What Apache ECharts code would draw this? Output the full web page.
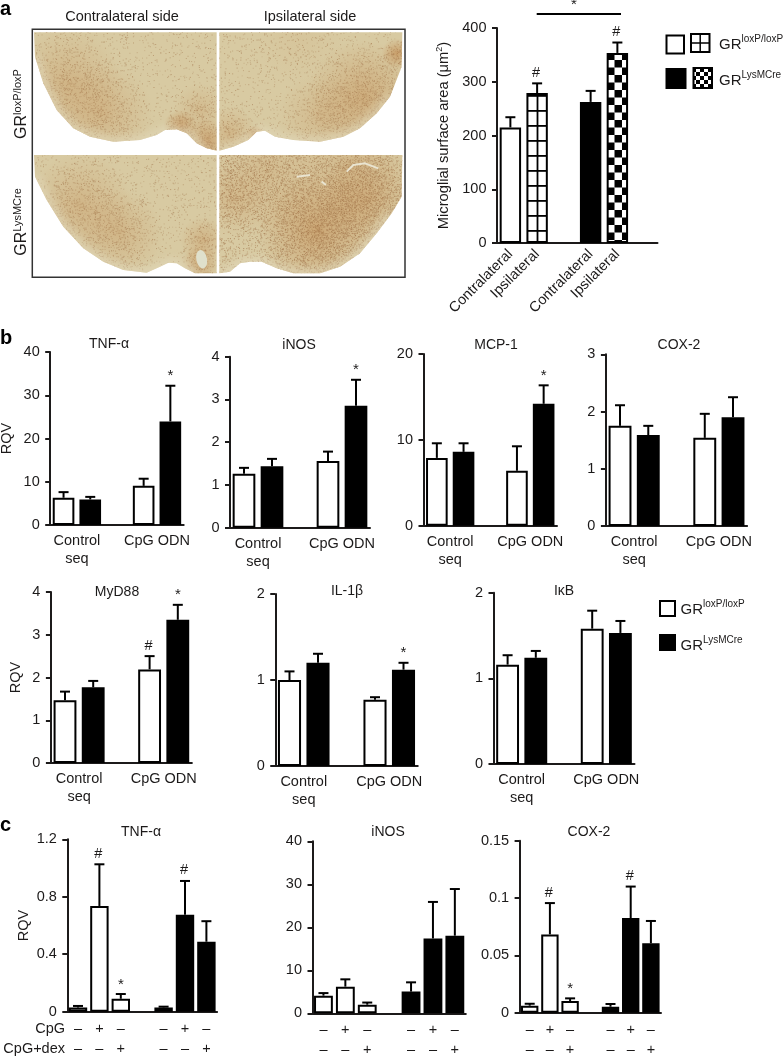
<!DOCTYPE html>
<html><head><meta charset="utf-8">
<script src="https://cdn.jsdelivr.net/npm/echarts@6/dist/echarts.min.js"></script>
<style>html,body{margin:0;padding:0;background:#fff}#c{width:784px;height:1057px}</style>
</head><body><div id="c"></div>
<script>
// ---------- values ----------
const sideLabels = ['Contralateral', 'Ipsilateral', 'Contralateral', 'Ipsilateral'];
const groupLabels = ['Control\nseq', 'CpG ODN'];
const cpgRow = ['–', '+', '–', '–', '+', '–'];
const dexRow = ['–', '–', '+', '–', '–', '+'];

const areaMeans = [215, 279, 262.5, 353.6];
const areaTops  = [234, 297, 283, 373];
const areaMarks = ['', '#', '', '#'];

const tnfMeans = [6.3, 5.9, 9.05, 23.95];
const tnfTops  = [7.6, 6.5, 10.7, 32.2];
const inosMeans = [1.26, 1.44, 1.56, 2.85];
const inosTops  = [1.40, 1.61, 1.78, 3.46];
const mcpMeans = [7.9, 8.6, 6.4, 14.2];
const mcpTops  = [9.6, 9.6, 9.25, 16.35];
const coxMeans = [1.75, 1.59, 1.54, 1.90];
const coxTops  = [2.11, 1.75, 1.96, 2.25];
const myd88Means = [1.47, 1.77, 2.19, 3.35];
const myd88Tops  = [1.67, 1.92, 2.50, 3.70];
const il1Means = [1.0, 1.2, 0.77, 1.12];
const il1Tops  = [1.1, 1.305, 0.8, 1.2];
const ikbMeans = [1.16, 1.24, 1.58, 1.53];
const ikbTops  = [1.27, 1.32, 1.79, 1.67];

const cTnfMeans = [0.03, 0.736, 0.09, 0.03, 0.675, 0.487];
const cTnfTops  = [0.04, 1.026, 0.123, 0.035, 0.91, 0.63];
const cInosMeans = [4.1, 6.2, 2.0, 5.05, 17.4, 18.05];
const cInosTops  = [4.7, 7.9, 2.5, 7.2, 25.9, 28.9];
const cCoxMeans = [0.0061, 0.0683, 0.0102, 0.0052, 0.0826, 0.0605];
const cCoxTops  = [0.0078, 0.0956, 0.0125, 0.0076, 0.11, 0.08];

// ---------- patterns ----------
const INK = '#1c1a1a';
function tile(w, h, draw) {
  const t = document.createElement('canvas'); t.width = w; t.height = h;
  const x = t.getContext('2d'); x.fillStyle = '#fff'; x.fillRect(0, 0, w, h); x.fillStyle = '#000'; draw(x);
  return t;
}
const gridTile = tile(21, 15, x => { x.fillRect(11.6, 0, 1.8, 15); x.fillRect(0, 5, 21, 1.8); });
const checkTile = tile(15, 15, x => {
  [-15, 0, 15].forEach(d => { x.fillRect(7 + d, 7.5, 7.5, 7.5); x.fillRect(14.5 + d, 0, 7.5, 7.5); });
});
const smallCheck = tile(8, 8, x => { x.fillRect(0, 0, 4, 4); x.fillRect(4, 4, 4, 4); });
const gridFill = { image: gridTile, repeat: 'repeat' };
const checkFill = { image: checkTile, repeat: 'repeat' };

// ---------- micrograph (a photograph in the source; painted as a background texture) ----------
function micrograph() {
  const cv = document.createElement('canvas'); cv.width = 420; cv.height = 290;
  const g = cv.getContext('2d'); g.scale(1 / 3, 1 / 3);
  let s = 12345; const rnd = () => (s = (s * 1103515245 + 12345) & 0x7fffffff) / 0x7fffffff;
  const tissue = [
    { poly: [[102,97],[650,97],[650,452],[620,445],[590,430],[560,400],[530,388],[495,390],[470,405],[420,420],[340,425],[270,410],[220,385],[170,330],[130,250],[105,170]],
      blobs: [[200,250,170,.30],[310,340,150,.28],[540,380,50,.7],[620,425,70,.55],[600,330,80,.22]], base: .10, dot: .18 },
    { poly: [[658,97],[1207,97],[1205,200],[1170,290],[1130,340],[1080,385],[1030,410],[960,425],[880,420],[825,410],[795,392],[770,395],[745,420],[700,440],[658,452]],
      blobs: [[1090,290,170,.42],[960,350,130,.22],[1190,160,45,.6],[765,405,30,.8],[690,400,80,.28],[900,120,130,.08]], base: .11, dot: .18 },
    { poly: [[102,465],[650,465],[650,820],[585,820],[555,805],[530,790],[505,788],[480,800],[440,818],[370,810],[310,785],[250,745],[190,680],[140,600],[105,530]],
      blobs: [[240,620,160,.30],[360,700,130,.28],[610,720,70,.32],[600,790,55,.45]], base: .11, dot: .18 },
    { poly: [[658,465],[1207,465],[1205,590],[1175,640],[1130,700],[1080,760],[1020,800],[960,820],[880,820],[830,805],[785,785],[750,785],[720,790],[690,815],[658,820]],
      blobs: [[950,690,180,.5],[1100,600,150,.35],[800,520,190,.22],[1050,500,190,.25],[700,600,110,.2]], base: .24, dot: .32 }
  ];
  tissue.forEach(t => {
    g.save(); g.beginPath();
    t.poly.forEach((p, i) => i ? g.lineTo(p[0], p[1]) : g.moveTo(p[0], p[1]));
    g.closePath(); g.clip();
    g.fillStyle = '#d8caa2'; g.fillRect(0, 0, 1260, 870);
    t.blobs.forEach(b => {
      const r = g.createRadialGradient(b[0], b[1], 0, b[0], b[1], b[2]);
      r.addColorStop(0, 'rgba(194,140,82,' + Math.min(.7, b[3] * 1.15) + ')');
      r.addColorStop(1, 'rgba(194,140,82,0)');
      g.fillStyle = r; g.fillRect(b[0] - b[2], b[1] - b[2], b[2] * 2, b[2] * 2);
    });
    g.filter = 'blur(0.5px)';
    for (let y = 90; y < 830; y += 4) for (let x = 100; x < 1210; x += 4) {
      let p = t.base;
      t.blobs.forEach(b => { const d = Math.hypot(x - b[0], y - b[1]) / b[2]; if (d < 1) p += b[3] * (1 - d); });
      if (rnd() < p) {
        g.fillStyle = 'rgba(150,100,58,' + (t.dot + rnd() * .32).toFixed(2) + ')';
        g.fillRect(x + rnd() * 3, y + rnd() * 3, 3, 3);
      }
    }
    g.filter = 'blur(4px)';
    g.strokeStyle = 'rgba(226,218,188,.8)'; g.lineWidth = 22;
    g.beginPath();
    t.poly.slice(3).forEach((p, i) => i ? g.lineTo(p[0], p[1]) : g.moveTo(p[0], p[1]));
    g.stroke();
    g.filter = 'none';
    g.restore();
  });
  // pale vessels and ventricle openings
  g.strokeStyle = '#e9e4d0'; g.lineWidth = 6; g.lineJoin = 'round';
  [[[1040,515],[1060,495],[1095,490],[1135,505]], [[890,530],[930,525]], [[965,545],[978,555]]].forEach(l => {
    g.beginPath(); l.forEach((p, i) => i ? g.lineTo(p[0], p[1]) : g.moveTo(p[0], p[1])); g.stroke();
  });
  g.fillStyle = '#dfe0cc'; g.beginPath(); g.ellipse(605, 778, 16, 28, -.2, 0, 7); g.fill();
  return cv;
}

// ---------- chart ----------
const grids = [], xAxes = [], yAxes = [], series = [], titles = [];
const FONT = '"Liberation Sans", Arial, sans-serif';

function addPanel(c) {
  const i = grids.length;
  grids.push({ left: c.left, top: c.top, width: c.slot * c.slots, height: c.height, outerBoundsMode: 'none' });
  xAxes.push({
    gridIndex: i, type: 'value', min: 0, max: c.slots, splitLine: { show: false },
    axisLine: { lineStyle: { color: INK, width: 2 } }, axisTick: { show: false },
    axisLabel: Object.assign({
      customValues: c.labelAt, color: INK, fontFamily: FONT, fontSize: 14.5, lineHeight: c.lineHeight || 18,
      margin: c.margin === undefined ? 7 : c.margin, formatter: v => c.labels[c.labelAt.indexOf(v)], hideOverlap: false
    }, c.labelExtra || {})
  });
  yAxes.push({
    gridIndex: i, type: 'value', min: 0, max: c.max, interval: c.interval, splitLine: { show: false },
    axisLine: { show: true, lineStyle: { color: INK, width: 2 } },
    axisTick: { show: true, length: 5, lineStyle: { color: INK, width: 2 } },
    axisLabel: { color: INK, fontFamily: FONT, fontSize: 14.5, margin: 10.5 },
    name: c.yName || '', nameLocation: 'middle', nameGap: c.yGap || 30, nameRotate: 90,
    nameTextStyle: { color: INK, fontFamily: FONT, fontSize: c.yNameSize || 14.5, rich: { s: { fontSize: 9, verticalAlign: 'top', lineHeight: 18, fontFamily: FONT, color: INK } } }
  });
  const xs = c.xs;
  series.push({
    type: 'bar', xAxisIndex: i, yAxisIndex: i, barWidth: c.slot * c.ratio, animation: false, silent: true, clip: false,
    data: c.means.map((m, k) => ({
      value: [xs[k], m],
      itemStyle: { color: c.fills[k], borderColor: '#000', borderWidth: 2 }
    }))
  });
  series.push({
    type: 'custom', xAxisIndex: i, yAxisIndex: i, animation: false, silent: true, clip: false, z: 1,
    encode: { x: 0, y: [1, 2] },
    data: c.means.map((m, k) => [xs[k], m, c.tops[k]]),
    renderItem(p, api) {
      const a = api.coord([api.value(0), api.value(1)]), b = api.coord([api.value(0), api.value(2)]);
      const st = { stroke: '#000', lineWidth: 2 };
      const kids = [
        { type: 'line', shape: { x1: a[0], y1: a[1], x2: b[0], y2: b[1] }, style: st },
        { type: 'line', shape: { x1: b[0] - 5, y1: b[1], x2: b[0] + 5, y2: b[1] }, style: st }
      ];
      const mark = c.marks && c.marks[p.dataIndex];
      if (mark) kids.push({
        type: 'text', style: {
          text: mark, x: b[0] - (mark === '#' ? 1 : 0), y: b[1] - (mark === '*' ? 2 : 3), textAlign: 'center',
          textVerticalAlign: 'bottom', fontSize: mark === '*' ? 15 : 14.5, fontFamily: FONT, fill: INK
        }
      });
      return { type: 'group', children: kids };
    }
  });
  if (c.title) titles.push({
    text: c.title, left: c.titleX, top: c.titleY, padding: 0, textAlign: 'center', textVerticalAlign: 'middle',
    textStyle: { color: INK, fontFamily: FONT, fontSize: 14, fontWeight: 'normal' }
  });
}

const W = '#ffffff', K = '#000000';
const fourX = [0.5, 1.5, 3.5, 4.5];
const sixX = [0.5, 1.5, 2.5, 4.5, 5.5, 6.5];

addPanel({ left: 497, top: 28, slot: 26.75, slots: 6, height: 215, ratio: .8, max: 400, interval: 100,
  means: areaMeans, tops: areaTops, marks: areaMarks, xs: fourX, fills: [W, gridFill, K, checkFill],
  labelAt: fourX, labels: sideLabels, labelExtra: { rotate: 45, margin: 9 },
  yName: 'Microglial surface area (μm{s|2})', yGap: 44, yNameSize: 14.7 });

function bPanel(o) {
  addPanel(Object.assign({ slots: 5, ratio: .81, xs: fourX, fills: [W, K, W, K], labelAt: [1, 4], labels: groupLabels, margin: 7 }, o));
}
bPanel({ left: 50.2, top: 352, slot: 26.7, height: 173, max: 40, interval: 10, means: tnfMeans, tops: tnfTops, marks: ['', '', '', '*'],
  title: 'TNF-α', titleX: 109, titleY: 344, yName: 'RQV', yGap: 36 });
bPanel({ left: 230, top: 356.7, slot: 28, height: 171, max: 4, interval: 1, means: inosMeans, tops: inosTops, marks: ['', '', '', '*'],
  title: 'iNOS', titleX: 299, titleY: 345 });
bPanel({ left: 423.5, top: 354, slot: 26.7, height: 171.7, max: 20, interval: 10, means: mcpMeans, tops: mcpTops, marks: ['', '', '', '*'],
  title: 'MCP-1', titleX: 496, titleY: 345 });
bPanel({ left: 605.9, top: 354.3, slot: 28.25, height: 171.7, max: 3, interval: 1, means: coxMeans, tops: coxTops,
  title: 'COX-2', titleX: 679, titleY: 345 });
bPanel({ left: 50.9, top: 592, slot: 28.2, height: 171, max: 4, interval: 1, means: myd88Means, tops: myd88Tops, marks: ['', '', '#', '*'],
  title: 'MyD88', titleX: 117, titleY: 592, yName: 'RQV', yGap: 27 });
bPanel({ left: 275.25, top: 594, slot: 28.5, height: 172, max: 2, interval: 1, means: il1Means, tops: il1Tops, marks: ['', '', '', '*'],
  title: 'IL-1β', titleX: 347, titleY: 591 });
bPanel({ left: 493.5, top: 592.7, slot: 28.2, height: 171.3, max: 2, interval: 1, means: ikbMeans, tops: ikbTops,
  title: 'IκB', titleX: 564, titleY: 591 });

function cPanel(o) {
  const signs = cpgRow.map((v, k) => v + '\n' + dexRow[k]);
  addPanel(Object.assign({ slots: 7, ratio: .86, xs: sixX, fills: [W, W, W, K, K, K], labelAt: sixX, labels: signs, lineHeight: 20, margin: 7 }, o));
}
cPanel({ left: 67.3, top: 839.3, slot: 21.4, height: 172.4, max: 1.2, interval: 0.4, means: cTnfMeans, tops: cTnfTops, marks: ['', '#', '*', '', '#', ''],
  title: 'TNF-α', titleX: 141, titleY: 832, yName: 'RQV', yGap: 36 });
cPanel({ left: 312.5, top: 841.3, slot: 21.9, height: 172, max: 40, interval: 10, means: cInosMeans, tops: cInosTops,
  title: 'iNOS', titleX: 388, titleY: 832 });
cPanel({ left: 519.6, top: 840.7, slot: 20.2, height: 172, max: 0.15, interval: 0.05, means: cCoxMeans, tops: cCoxTops, marks: ['', '#', '*', '', '#', ''],
  title: 'COX-2', titleX: 589, titleY: 832 });

// ---------- static furniture ----------
const gr = (sup, sz) => ({
  text: '{b|GR}{s|' + sup + '}', font: '14px ' + FONT, fill: INK,
  rich: { b: { fontSize: sz, fontFamily: FONT, lineHeight: 18, verticalAlign: 'bottom', fill: INK, color: INK },
          s: { fontSize: Math.round(sz * .68), fontFamily: FONT, lineHeight: 18, verticalAlign: 'top', fill: INK, color: INK } }
});
const label = (text, x, y, o) => ({ type: 'text', x, y, z: 10, style: Object.assign({ text, font: '14.5px ' + FONT, fill: INK, align: 'center', verticalAlign: 'middle' }, o || {}) });
const letter = (t, y) => ({ type: 'text', x: 0, y, z: 10, style: { text: t, font: 'bold 20px ' + FONT, fill: '#000', align: 'left', verticalAlign: 'middle' } });
const box = (x, y, w, h, fill, stroke) => ({ type: 'rect', z: 10, shape: { x, y, width: w, height: h }, style: { fill, stroke: stroke || '#000', lineWidth: 2 } });
const seg = (x1, y1, x2, y2, c, w) => ({ type: 'line', z: 10, shape: { x1, y1, x2, y2 }, style: { stroke: c || '#000', lineWidth: w || 2 } });

const furniture = [
  { type: 'image', x: 0, y: 0, z: 1, style: { image: micrograph(), x: 0, y: 0, width: 420, height: 290 } },
  { type: 'rect', z: 2, shape: { x: 32.3, y: 29.3, width: 372.7, height: 248 }, style: { fill: 'none', stroke: '#333', lineWidth: 1.5 } },
  letter('a', 9), letter('b', 338), letter('c', 825),
  label('Contralateral side', 122, 17), label('Ipsilateral side', 310, 17),
  Object.assign(label('', 21, 104), { rotation: Math.PI / 2, style: Object.assign({ align: 'center', verticalAlign: 'middle' }, gr('loxP/loxP', 16)) }),
  Object.assign(label('', 21, 222), { rotation: Math.PI / 2, style: Object.assign({ align: 'center', verticalAlign: 'middle' }, gr('LysMCre', 16)) }),
  seg(536.7, 14, 621, 14), label('*', 574, 5, { font: '15px ' + FONT }),
  // legend a
  box(666.5, 35.5, 17.5, 18), box(691, 34, 18.5, 18), seg(700.2, 34, 700.2, 52, '#000', 1.5), seg(691, 43, 709.5, 43, '#000', 1.5),
  box(666.5, 69, 19, 19, '#000'), box(693.5, 68, 18.5, 20, { image: smallCheck, repeat: 'repeat' }),
  label('', 719, 43, { align: 'left', ...gr('loxP/loxP', 15) }), label('', 719, 79, { align: 'left', ...gr('LysMCre', 15) }),
  // legend b
  box(660, 601, 15, 15), box(660, 635, 15, 15, '#000'),
  label('', 680.5, 608, { align: 'left', ...gr('loxP/loxP', 15) }), label('', 680.5, 644, { align: 'left', ...gr('LysMCre', 15) }),
  // row labels c
  label('CpG', 65, 1029, { align: 'right' }), label('CpG+dex', 65, 1049, { align: 'right' })
];

const chart = echarts.init(document.getElementById('c'), null, { renderer: 'canvas' });
chart.setOption({
  animation: false, backgroundColor: '#fff', textStyle: { fontFamily: FONT },
  title: titles, grid: grids, xAxis: xAxes, yAxis: yAxes, series, graphic: { elements: furniture }
});
</script></body></html>
